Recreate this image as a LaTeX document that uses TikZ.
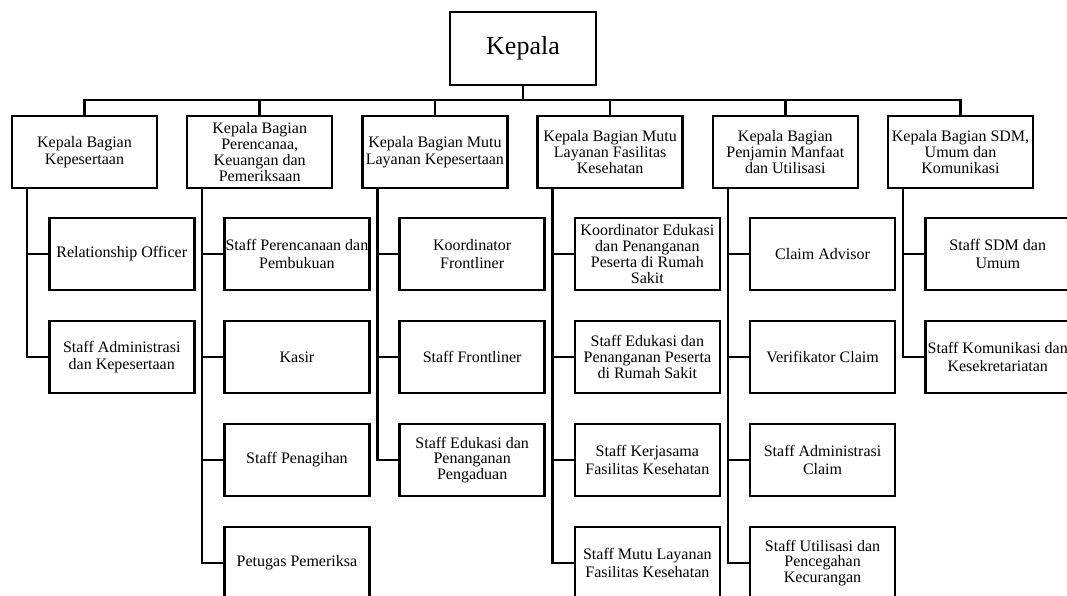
\documentclass[tikz,border=0pt]{standalone}
\usepackage{fontspec}
\setmainfont{Liberation Serif}
\begin{document}
\begin{tikzpicture}[x=1pt,y=-1pt,
  box/.style={draw,line width=2.5pt,minimum width=145pt,minimum height=72pt,inner sep=1pt,align=center,
    font=\fontsize{16}{17.5}\selectfont},
  tight/.style={font=\fontsize{16}{15.8}\selectfont},
  leaf/.style={box,anchor=west},
  conn/.style={line width=2.5pt,line join=miter}]
\useasboundingbox (0,0) rectangle (1067,595);
\clip (0,0) rectangle (1067,595);
% top
\node[box,minimum width=146pt,minimum height=73pt,font=\fontsize{26}{28}\selectfont] (top) at (523,48.5) {Kepala};
\coordinate (bus) at (523,100);
% level 2
\node[box] (b1) at (84.5,152) {Kepala Bagian\\Kepesertaan};
\node[box,tight] (b2) at (259.7,152) {Kepala Bagian\\Perencanaa,\\Keuangan dan\\Pemeriksaan};
\node[box] (b3) at (434.9,152) {Kepala Bagian Mutu\\Layanan Kepesertaan};
\node[box,tight] (b4) at (610.1,152) {Kepala Bagian Mutu\\Layanan Fasilitas\\Kesehatan};
\node[box,tight] (b5) at (785.3,152) {Kepala Bagian\\Penjamin Manfaat\\dan Utilisasi};
\node[box,tight] (b6) at (960.5,152) {Kepala Bagian SDM,\\Umum dan\\Komunikasi};
\draw[conn] (top.south) -- (bus);
\draw[conn] (b1.north) -- (b1.north |- bus) -- (b6.north |- bus) -- (b6.north);
\foreach \i in {2,3,4,5} {\draw[conn] (b\i.north) -- (b\i.north |- bus);}
% trunks
\coordinate (t1) at (27,188);
\coordinate (t2) at (202.2,188);
\coordinate (t3) at (377.4,188);
\coordinate (t4) at (552.6,188);
\coordinate (t5) at (727.8,188);
\coordinate (t6) at (903,188);
% column 1
\node[leaf] (c11) at (48,254) {Relationship Officer};
\node[leaf] (c12) at (48,357) {Staff Administrasi\\dan Kepesertaan};
% column 2
\node[leaf] (c21) at (223.2,254) {Staff Perencanaan dan\\Pembukuan};
\node[leaf] (c22) at (223.2,357) {Kasir};
\node[leaf] (c23) at (223.2,460) {Staff Penagihan};
\node[leaf] (c24) at (223.2,563) {Petugas Pemeriksa};
% column 3
\node[leaf] (c31) at (398.4,254) {Koordinator\\Frontliner};
\node[leaf] (c32) at (398.4,357) {Staff Frontliner};
\node[leaf,tight] (c33) at (398.4,460) {Staff Edukasi dan\\Penanganan\\Pengaduan};
% column 4
\node[leaf,tight] (c41) at (573.6,254) {Koordinator Edukasi\\dan Penanganan\\Peserta di Rumah\\Sakit};
\node[leaf,tight] (c42) at (573.6,357) {Staff Edukasi dan\\Penanganan Peserta\\di Rumah Sakit};
\node[leaf] (c43) at (573.6,460) {Staff Kerjasama\\Fasilitas Kesehatan};
\node[leaf] (c44) at (573.6,563) {Staff Mutu Layanan\\Fasilitas Kesehatan};
% column 5
\node[leaf] (c51) at (748.8,254) {Claim Advisor};
\node[leaf] (c52) at (748.8,357) {Verifikator Claim};
\node[leaf] (c53) at (748.8,460) {Staff Administrasi\\Claim};
\node[leaf,tight] (c54) at (748.8,563) {Staff Utilisasi dan\\Pencegahan\\Kecurangan};
% column 6
\node[leaf] (c61) at (924,254) {Staff SDM dan\\Umum};
\node[leaf] (c62) at (924,357) {Staff Komunikasi dan\\Kesekretariatan};
% connectors
\draw[conn] (t1) |- (c12.west);
\draw[conn] (t1 |- c11.west) -- (c11.west);
\draw[conn] (t2) |- (c24.west);
\foreach \j in {1,2,3} {\draw[conn] (t2 |- c2\j.west) -- (c2\j.west);}
\draw[conn] (t3) |- (c33.west);
\foreach \j in {1,2} {\draw[conn] (t3 |- c3\j.west) -- (c3\j.west);}
\draw[conn] (t4) |- (c44.west);
\foreach \j in {1,2,3} {\draw[conn] (t4 |- c4\j.west) -- (c4\j.west);}
\draw[conn] (t5) |- (c54.west);
\foreach \j in {1,2,3} {\draw[conn] (t5 |- c5\j.west) -- (c5\j.west);}
\draw[conn] (t6) |- (c62.west);
\draw[conn] (t6 |- c61.west) -- (c61.west);
\end{tikzpicture}
\end{document}
